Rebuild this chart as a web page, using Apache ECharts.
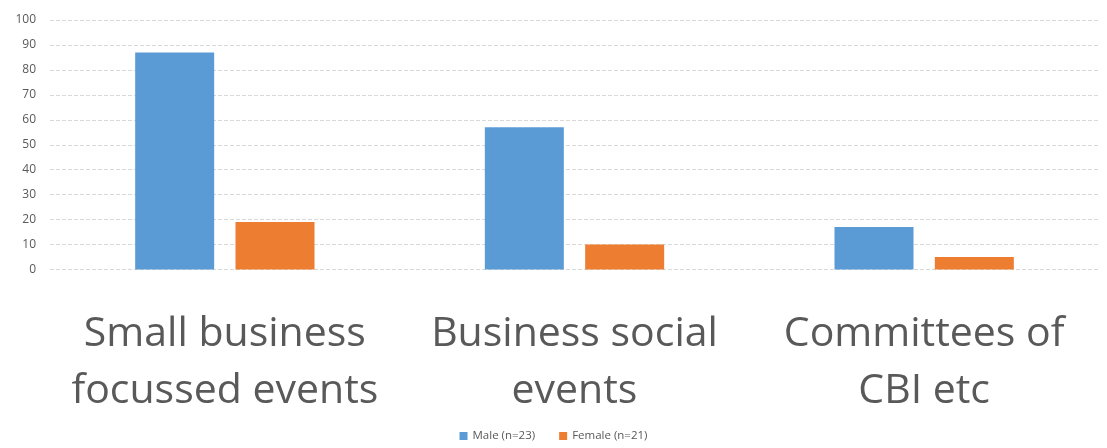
<!DOCTYPE html>
<html>
<head>
<meta charset="utf-8">
<script src="https://cdn.jsdelivr.net/npm/echarts@6/dist/echarts.min.js"></script>
<style>
  html, body { margin: 0; padding: 0; background: #ffffff; }
  #chart { width: 1107px; height: 448px; }
</style>
</head>
<body>
<div id="chart"></div>
<script>
// Event categories shown along the bottom
const categories = ['Small business\nfocussed events', 'Business social\nevents', 'Committees of\nCBI etc'];
// Percentages per group
const maleValues = [87, 57, 17];
const femaleValues = [19, 10, 5];
const seriesNames = ['Male (n=23)', 'Female (n=21)'];
// Value axis ticks
const yTicks = [0, 10, 20, 30, 40, 50, 60, 70, 80, 90, 100];

const chart = echarts.init(document.getElementById('chart'), null, { renderer: 'canvas' });

chart.setOption({
  animation: false,
  backgroundColor: '#ffffff',
  textStyle: { fontFamily: 'Open Sans' },
  grid: { left: 50, right: 8, top: 20, bottom: 178.5, containLabel: false },
  legend: {
    bottom: 1,
    left: 'center',
    itemWidth: 8,
    itemHeight: 8,
    itemGap: 24,
    icon: 'rect',
    textStyle: { color: '#595959', fontSize: 11.5, fontFamily: 'Open Sans' },
    data: seriesNames
  },
  xAxis: {
    type: 'category',
    data: categories,
    axisLine: { show: false },
    axisTick: { show: false },
    axisLabel: {
      interval: 0,
      hideOverlap: false,
      color: '#595959',
      fontSize: 41,
      lineHeight: 57,
      margin: 36,
      fontFamily: 'Open Sans'
    }
  },
  yAxis: {
    type: 'value',
    min: yTicks[0],
    max: yTicks[yTicks.length - 1],
    interval: 10,
    axisLine: { show: false },
    axisTick: { show: false },
    axisLabel: { color: '#595959', fontSize: 12, margin: 14 },
    splitLine: { lineStyle: { color: '#d9d9d9', type: [4, 2], width: 1 } }
  },
  series: [
    {
      name: seriesNames[0],
      type: 'bar',
      data: maleValues,
      barWidth: 79,
      barGap: '27%',
      itemStyle: { color: '#5b9bd5' }
    },
    {
      name: seriesNames[1],
      type: 'bar',
      data: femaleValues,
      barWidth: 79,
      itemStyle: { color: '#ed7d31' }
    }
  ]
});
</script>
</body>
</html>
